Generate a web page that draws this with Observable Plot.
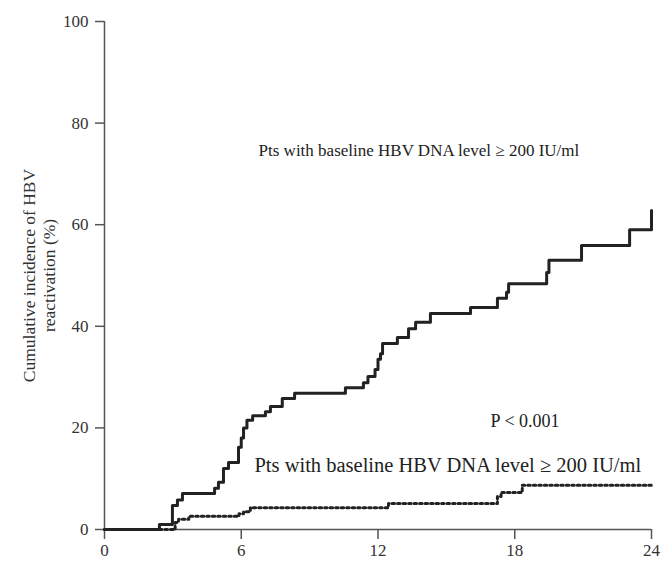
<!DOCTYPE html>
<html>
<head>
<meta charset="utf-8">
<script src="https://cdn.jsdelivr.net/npm/d3@7"></script>
<script src="https://cdn.jsdelivr.net/npm/@observablehq/plot@0.6"></script>
<style>
  body { margin: 0; background: #fff; }
  #chart svg { display: block; }
</style>
</head>
<body>
<div id="chart"></div>
<script>
// Cumulative incidence (%) by month — baseline HBV DNA >= 200 IU/ml (solid)
const highMonths = [0, 2.41, 2.98, 3.2, 3.42, 4.83, 5.0, 5.22, 5.44, 5.88, 6.0, 6.1, 6.25, 6.5, 7.06, 7.28, 7.8, 8.34, 10.57, 11.36, 11.56, 11.87, 12.0, 12.11, 12.2, 12.85, 13.34, 13.65, 14.3, 16.06, 17.24, 17.64, 17.73, 19.4, 19.5, 20.93, 23.04, 24];
const highValues = [0, 1, 4.7, 5.8, 7.1, 8.1, 9.3, 12, 13.2, 16.2, 18, 20, 21.5, 22.4, 23.2, 24.2, 25.8, 26.8, 27.9, 28.9, 30.1, 31.5, 33.5, 34.6, 36.6, 37.8, 39.5, 40.8, 42.5, 43.7, 45.5, 46.7, 48.4, 50.6, 53, 55.9, 59, 62.8];

// Second group (dotted)
const lowMonths = [0, 3.1, 3.25, 3.7, 5.9, 6.1, 6.4, 12.46, 17.24, 17.4, 18.33, 24];
const lowValues = [0, 1.4, 2.0, 2.6, 3.1, 3.5, 4.3, 5.1, 6.5, 7.3, 8.7, 8.7];

const xTicks = [0, 6, 12, 18, 24];
const yTicks = [0, 20, 40, 60, 80, 100];
const yLabelLines = ["Cumulative incidence of HBV", "reactivation (%)"];
const labelHigh = "Pts with baseline HBV DNA level ≥ 200 IU/ml";
const labelLow = "Pts with baseline HBV DNA level ≥ 200 IU/ml";
const labelP = "P < 0.001";

const high = highMonths.map((m, i) => ({month: m, value: highValues[i]}));
const low = lowMonths.map((m, i) => ({month: m, value: lowValues[i]}));

const serif = "'Liberation Serif', 'DejaVu Serif', serif";

const chart = Plot.plot({
  width: 665,
  height: 565,
  marginLeft: 104,
  marginRight: 14,
  marginTop: 21,
  marginBottom: 36,
  style: {fontFamily: serif, fontSize: "17px", color: "#333", background: "#fff"},
  x: {domain: [0, 24]},
  y: {domain: [0, 100]},
  marks: [
    Plot.ruleX([0], {stroke: "#555", strokeWidth: 1.5}),
    Plot.ruleY([0], {stroke: "#555", strokeWidth: 1.5}),
    Plot.axisY({ticks: yTicks, tickSize: 9, tickPadding: 7, label: null, stroke: "#555", strokeWidth: 1.5, fontSize: 17}),
    Plot.axisX({ticks: xTicks, tickSize: 10, tickPadding: 4, label: null, stroke: "#555", strokeWidth: 1.5, fontSize: 17}),
    Plot.line(low, {x: "month", y: "value", curve: "step-after", stroke: "#222", strokeWidth: 3, strokeDasharray: "2.5,3"}),
    Plot.line(high, {x: "month", y: "value", curve: "step-after", stroke: "#222", strokeWidth: 3}),
    Plot.text([labelHigh], {x: 6.76, y: 74.6, text: d => d, textAnchor: "start", fontSize: 17, fill: "#222", fontFamily: serif}),
    Plot.text([labelP], {x: 16.94, y: 21.3, text: d => d, textAnchor: "start", fontSize: 18, fill: "#222", fontFamily: serif}),
    Plot.text([labelLow], {x: 6.58, y: 12.6, text: d => d, textAnchor: "start", fontSize: 20.5, fill: "#222", fontFamily: serif}),
    Plot.text([yLabelLines[0]], {x: -3.28, y: 50, text: d => d, rotate: -90, fontSize: 17.5, fill: "#333", fontFamily: serif}),
    Plot.text([yLabelLines[1]], {x: -2.4, y: 50, text: d => d, rotate: -90, fontSize: 17.5, fill: "#333", fontFamily: serif})
  ]
});
document.getElementById("chart").appendChild(chart);
</script>
</body>
</html>
